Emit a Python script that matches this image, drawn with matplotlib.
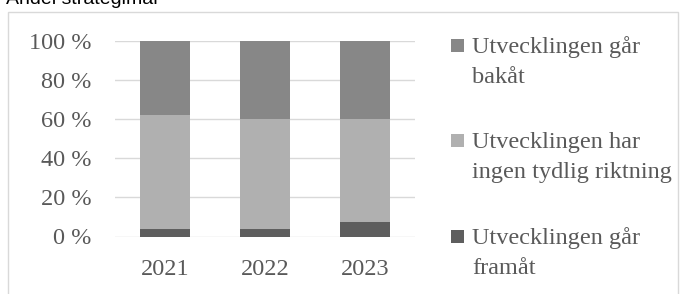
import matplotlib
matplotlib.use("Agg")
import matplotlib.pyplot as plt
from matplotlib.patches import Rectangle

years = ["2021", "2022", "2023"]
series_names = ["Utvecklingen går\nframåt",
                "Utvecklingen har\ningen tydlig riktning",
                "Utvecklingen går\nbakåt"]
framat = [4, 4, 7.5]
ingen = [58, 56, 52.5]
bakat = [38, 40, 40]
series_values = [framat, ingen, bakat]
colors = ["#5e5e5e", "#b0b0b0", "#878787"]
yticks = [0, 20, 40, 60, 80, 100]
title = "Andel strategimål"

txt = "#595959"
serif = ["Liberation Serif", "DejaVu Serif"]
fs = 17.5

fig = plt.figure(figsize=(6.8, 2.94), dpi=100)
fig.patch.set_facecolor("white")

def fx(px):
    return px / 680

def fy(py):
    return 1 - py / 294

# outer frame
fig.patches.append(Rectangle((fx(8), -0.1), fx(678 - 8), 1.1 - 12 / 294,
                             transform=fig.transFigure, fill=False,
                             edgecolor="#d9d9d9", linewidth=1.0))
fig.text(fx(6), fy(4), title, family=["Liberation Sans", "DejaVu Sans"],
         fontsize=14, color="#000000", ha="left", va="baseline")

ax = fig.add_axes([fx(115), fy(236.5), fx(300), (236.5 - 41) / 294])
x = list(range(len(years)))
bottom = [0] * len(years)
for vals, col in zip(series_values, colors):
    ax.bar(x, vals, width=0.5, bottom=bottom, color=col, zorder=3)
    bottom = [b + v for b, v in zip(bottom, vals)]

ax.set_xlim(-0.5, 2.5)
ax.set_ylim(0, 100)
ax.set_yticks(yticks)
ax.set_yticklabels([f"{t} %" for t in yticks])
ax.set_xticks(x)
ax.set_xticklabels(years)
ax.yaxis.grid(True, color="#d9d9d9", linewidth=1.0, zorder=0)
ax.set_axisbelow(True)
for s in ax.spines.values():
    s.set_visible(False)
ax.tick_params(length=0, colors=txt, labelsize=fs)
ax.tick_params(axis="y", pad=17)
ax.tick_params(axis="x", pad=16)
for lab in ax.get_xticklabels() + ax.get_yticklabels():
    lab.set_family(serif)

# legend (top to bottom: reverse stack order)
sq_tops = [39, 134, 230]
baselines = [53, 148, 244]
for name, col, sq, bl in zip(series_names[::-1], colors[::-1], sq_tops, baselines):
    fig.patches.append(Rectangle((fx(451), fy(sq + 13)), fx(13), 13 / 294,
                                 transform=fig.transFigure, facecolor=col,
                                 edgecolor="none"))
    for j, line in enumerate(name.split("\n")):
        fig.text(fx(472), fy(bl + 30 * j), line, family=serif, fontsize=fs,
                 color=txt, ha="left", va="baseline")

fig.savefig("out.png", dpi=100, facecolor="white")
